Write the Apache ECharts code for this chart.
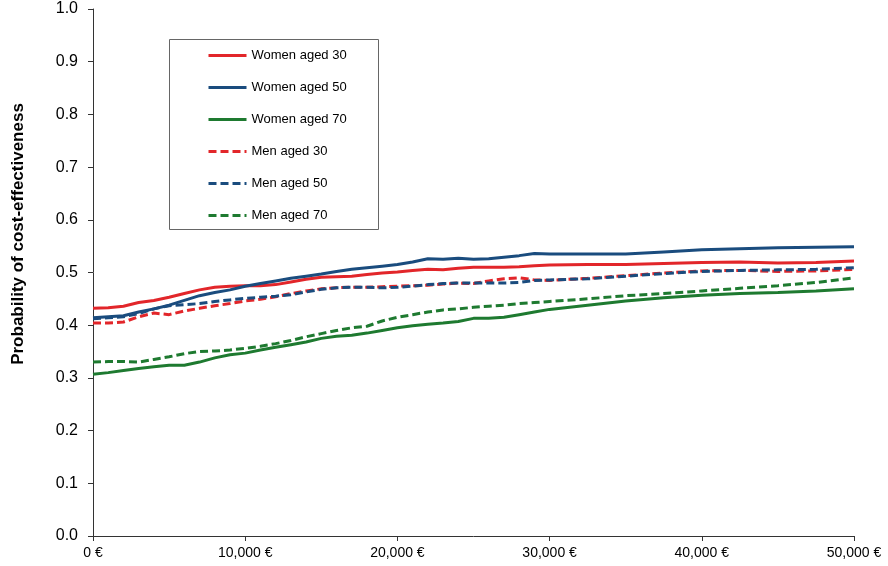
<!DOCTYPE html>
<html>
<head>
<meta charset="utf-8">
<script src="https://cdn.jsdelivr.net/npm/echarts@6/dist/echarts.min.js"></script>
<style>html,body{margin:0;padding:0;background:#fff}#c{width:888px;height:566px}</style>
</head>
<body>
<div id="c"></div>
<script>
const xs = [0,1000,2000,3000,4000,5000,6000,7000,8000,9000,10000,11000,12000,13000,14000,15000,16000,17000,18000,19000,20000,21000,22000,23000,24000,25000,26000,27000,28000,29000,30000,32500,35000,37500,40000,42500,45000,47500,50000];
const women30 = [0.432,0.433,0.436,0.443,0.447,0.453,0.460,0.467,0.472,0.474,0.475,0.475,0.477,0.482,0.487,0.491,0.492,0.493,0.496,0.499,0.501,0.504,0.506,0.505,0.508,0.510,0.510,0.510,0.511,0.513,0.514,0.515,0.515,0.517,0.519,0.520,0.518,0.519,0.522];
const women50 = [0.414,0.416,0.418,0.425,0.431,0.438,0.447,0.456,0.462,0.467,0.474,0.479,0.484,0.489,0.493,0.497,0.502,0.506,0.509,0.512,0.515,0.520,0.526,0.525,0.527,0.525,0.526,0.529,0.532,0.536,0.535,0.535,0.535,0.539,0.543,0.545,0.547,0.548,0.549];
const women70 = [0.307,0.310,0.314,0.318,0.321,0.324,0.324,0.330,0.338,0.344,0.347,0.353,0.358,0.363,0.368,0.375,0.379,0.381,0.385,0.390,0.395,0.399,0.402,0.404,0.407,0.413,0.413,0.415,0.420,0.425,0.430,0.438,0.446,0.452,0.457,0.460,0.462,0.465,0.469];
const men30 = [0.404,0.404,0.406,0.416,0.423,0.420,0.427,0.432,0.437,0.441,0.446,0.449,0.454,0.460,0.465,0.469,0.471,0.472,0.472,0.473,0.474,0.475,0.476,0.478,0.480,0.479,0.484,0.488,0.490,0.486,0.485,0.489,0.494,0.499,0.503,0.504,0.502,0.503,0.506];
const men50 = [0.412,0.414,0.416,0.422,0.431,0.437,0.439,0.441,0.445,0.448,0.451,0.453,0.455,0.458,0.463,0.468,0.471,0.472,0.472,0.471,0.472,0.474,0.477,0.479,0.480,0.480,0.480,0.480,0.481,0.485,0.486,0.488,0.493,0.498,0.502,0.504,0.505,0.506,0.509];
const men70 = [0.330,0.331,0.331,0.330,0.335,0.340,0.346,0.350,0.351,0.353,0.356,0.360,0.365,0.371,0.378,0.384,0.390,0.395,0.398,0.408,0.415,0.420,0.425,0.429,0.431,0.434,0.436,0.438,0.441,0.443,0.445,0.450,0.456,0.460,0.465,0.470,0.475,0.481,0.490];
const seriesNames = ['Women aged 30','Women aged 50','Women aged 70','Men aged 30','Men aged 50','Men aged 70'];
const yTitle = 'Probability of cost-effectiveness';

const RED = '#E2262A', BLUE = '#1A4C7E', GREEN = '#1E7A30';
const defs = [
  [seriesNames[0], women30, RED, 'solid'],
  [seriesNames[1], women50, BLUE, 'solid'],
  [seriesNames[2], women70, GREEN, 'solid'],
  [seriesNames[3], men30, RED, [8,4]],
  [seriesNames[4], men50, BLUE, [8,4]],
  [seriesNames[5], men70, GREEN, [8,4]]
];
const chart = echarts.init(document.getElementById('c'), null, {renderer:'canvas'});
chart.setOption({
  animation: false,
  backgroundColor: '#fff',
  textStyle: {fontFamily: 'Liberation Sans, Arial, sans-serif'},
  grid: {left: 93, right: 34, top: 9, bottom: 30, containLabel: false},
  xAxis: {
    type: 'value', min: 0, max: 50000, interval: 10000,
    axisLine: {lineStyle: {color: '#333', width: 1}},
    axisTick: {show: true, length: 5, lineStyle: {color: '#333'}},
    splitLine: {show: false},
    axisLabel: {color: '#000', fontSize: 14, margin: 10,
      formatter: v => v.toLocaleString('en-US') + ' €'}
  },
  yAxis: {
    type: 'value', min: 0, max: 1, interval: 0.1,
    axisLine: {show: true, lineStyle: {color: '#333', width: 1}},
    axisTick: {show: true, length: 5, lineStyle: {color: '#333'}},
    splitLine: {show: false},
    axisLabel: {color: '#000', fontSize: 16, margin: 15, formatter: v => v.toFixed(1)}
  },
  legend: {
    orient: 'vertical', left: 207, top: 49, padding: 0,
    itemWidth: 38, itemHeight: 14, itemGap: 19,
    itemStyle: {opacity: 0},
    lineStyle: {width: 3},
    textStyle: {fontSize: 13, color: '#000'},
    data: seriesNames
  },
  graphic: [
    {type: 'rect', shape: {x: 169.5, y: 39.5, width: 209, height: 190},
     style: {fill: 'none', stroke: '#666', lineWidth: 1}, z: 0},
    {type: 'text', x: 18, y: 234, rotation: Math.PI/2,
     style: {text: yTitle, fontSize: 17, fontWeight: 'bold', fill: '#000',
       fontFamily: 'Liberation Sans, Arial, sans-serif', align: 'center', verticalAlign: 'middle'}}
  ],
  series: defs.map(d => ({
    name: d[0], type: 'line', symbol: 'none', showSymbol: false,
    data: xs.map((x, i) => [x, d[1][i]]),
    lineStyle: {color: d[2], width: 3, type: d[3]},
    itemStyle: {color: d[2]}
  }))
});
</script>
</body>
</html>
